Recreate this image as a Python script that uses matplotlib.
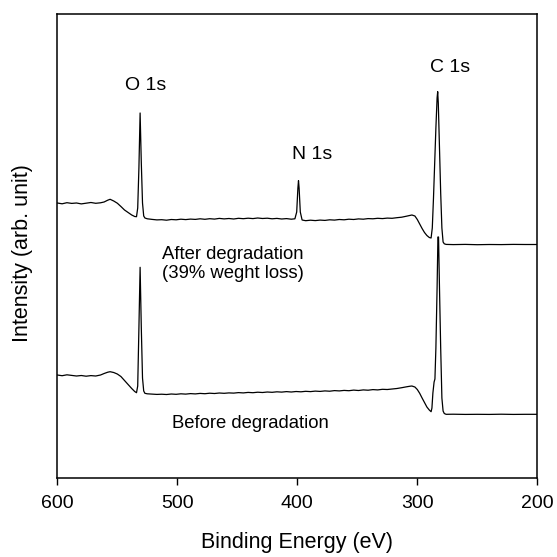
import matplotlib
matplotlib.use("Agg")
import matplotlib.pyplot as plt

plt.rcParams['font.family'] = ['Liberation Sans', 'DejaVu Sans']

# XPS survey spectra (binding energy in eV, intensity in arbitrary units)
after_be = [600, 596, 592, 588, 584, 580, 576, 572, 568, 564, 561, 558, 556, 553, 550,
            547, 544, 541, 538, 535.5, 534, 533, 532, 531, 530, 529, 528, 527, 525, 521,
            517, 513, 509, 505, 501, 497, 493, 489, 485, 481, 477, 473, 469, 465, 461,
            457, 453, 449, 445, 441, 437, 433, 429, 425, 421, 417, 413, 409, 405, 402,
            400.5, 399.5, 399, 398.5, 397.5, 396, 393, 389, 385, 381, 377, 373, 369, 365,
            361, 357, 353, 349, 345, 341, 337, 333, 329, 325, 321, 317, 313, 309, 306,
            304.5, 302, 300, 298, 296, 294, 292, 290, 288.5, 287.5, 286.5, 285.5, 284.5,
            283.5, 283, 282.5, 281.5, 280.5, 279.5, 278.5, 277.5, 276, 270, 260, 250, 240,
            230, 220, 210, 200]
after_int = [275.0, 274.2, 275.3, 274.6, 275.0, 274.1, 274.8, 275.5, 274.7, 275.2, 276.0,
             277.8, 278.7, 277.0, 274.8, 271.5, 268.0, 265.5, 263.0, 261.5, 261.3, 270, 310,
             365, 315, 275, 262, 260, 259.2, 258.6, 258.1, 258.3, 257.8, 258.5, 258.2, 258.8,
             258.4, 258.9, 258.6, 259.2, 258.7, 259.3, 258.9, 259.6, 259.1, 259.5, 259.0,
             259.7, 259.3, 259.8, 259.4, 260.0, 259.5, 259.8, 259.2, 259.6, 259.0, 259.4,
             258.8, 259.2, 266, 290, 297.3, 290, 266, 258.0, 257.3, 257.8, 257.4, 257.9,
             257.6, 258.2, 257.9, 258.5, 258.2, 258.8, 258.5, 259.1, 258.8, 259.4, 259.2,
             259.7, 259.4, 259.9, 259.7, 260.3, 260.8, 261.8, 262.6, 263.0, 262.0, 258.5,
             254.0, 249.5, 245.5, 242.5, 240.5, 240.0, 250, 280, 315, 350, 380, 386.3, 375,
             330, 285, 250, 236, 234.2, 233.6, 233.4, 233.6, 233.3, 233.5, 233.4, 233.6,
             233.5, 233.5]

before_be = [600, 596, 592, 588, 584, 580, 576, 572, 568, 564, 561, 558, 556, 553, 550,
             547, 544, 541, 538, 535.5, 534, 533, 532, 531, 530, 529, 528, 527, 525, 521,
             517, 513, 509, 505, 501, 497, 493, 489, 485, 481, 477, 473, 469, 465, 461,
             457, 453, 449, 445, 441, 437, 433, 429, 425, 421, 417, 413, 409, 405, 401,
             397, 393, 389, 385, 381, 377, 373, 369, 365, 361, 357, 353, 349, 345, 341,
             337, 333, 329, 325, 321, 317, 313, 309, 306, 304.5, 302, 300, 298, 296, 294,
             292, 290, 288.5, 287.8, 287, 286, 285.3, 284.5, 283.5, 282.8, 282.3, 281.5,
             280.5, 279.5, 278.5, 277.5, 276, 270, 260, 250, 240, 230, 220, 210, 200]
before_int = [103.0, 102.3, 103.2, 102.6, 102.0, 102.5, 101.8, 102.4, 102.0, 103.0, 104.5,
              105.8, 106.3, 105.5, 104.0, 101.5, 97.5, 93.5, 89.5, 86.5, 85.3, 92, 150,
              210.7, 150, 100, 87, 84.7, 84.2, 83.9, 83.6, 83.8, 83.5, 84.0, 83.7, 84.2,
              83.9, 84.4, 84.1, 84.6, 84.3, 84.8, 84.5, 85.0, 84.7, 85.1, 84.9, 85.4, 85.1,
              85.6, 85.3, 85.8, 85.5, 86.0, 85.7, 86.2, 85.9, 86.4, 86.0, 86.5, 86.2, 86.7,
              86.4, 86.9, 86.6, 87.1, 86.8, 87.4, 87.1, 87.6, 87.3, 87.9, 87.5, 88.1, 87.8,
              88.4, 88.1, 88.7, 88.5, 89.0, 89.5, 90.3, 91.2, 91.8, 92.0, 91.0, 88.5, 84.7,
              80.0, 75.5, 71.0, 68.0, 66.3, 70, 85, 96, 99, 130, 190, 241, 241, 190, 130,
              80, 67, 64.5, 63.7, 63.8, 63.6, 63.7, 63.6, 63.8, 63.6, 63.7, 63.7]

peak_labels = ["O 1s", "N 1s", "C 1s"]
peak_label_be = [526.8, 388, 273]
peak_label_int = [388, 319, 406]

fig = plt.figure(figsize=(5.57, 5.57), dpi=100)
ax = fig.add_axes([0.1029, 0.1418, 0.8617, 0.8331])

ax.plot(after_be, after_int, color='black', lw=0.9)
ax.plot(before_be, before_int, color='black', lw=0.9)

for lab, xb, yi in zip(peak_labels, peak_label_be, peak_label_int):
    ax.text(xb, yi, lab, ha='center', va='baseline', fontsize=14)

ax.text(513, 219, "After degradation", ha='left', va='baseline', fontsize=13.3)
ax.text(513, 200, "(39% weght loss)", ha='left', va='baseline', fontsize=13.3)
ax.text(504.7, 50.3, "Before degradation", ha='left', va='baseline', fontsize=13.3)

ax.set_xlim(600, 200)
ax.set_ylim(0, 464)
ax.set_xticks([600, 500, 400, 300, 200])
ax.set_yticks([])
ax.tick_params(axis='x', direction='out', length=5, width=1, pad=7.5, labelsize=14)

for sp in ax.spines.values():
    sp.set_linewidth(1.1)

ax.set_xlabel("Binding Energy (eV)", fontsize=15.5, va='center')
ax.xaxis.set_label_coords(0.5, -0.140)
ax.set_ylabel("Intensity (arb. unit)", fontsize=15.5, va='center')
ax.yaxis.set_label_coords(-0.0715, 0.485)

fig.savefig("out.png", dpi=100)
